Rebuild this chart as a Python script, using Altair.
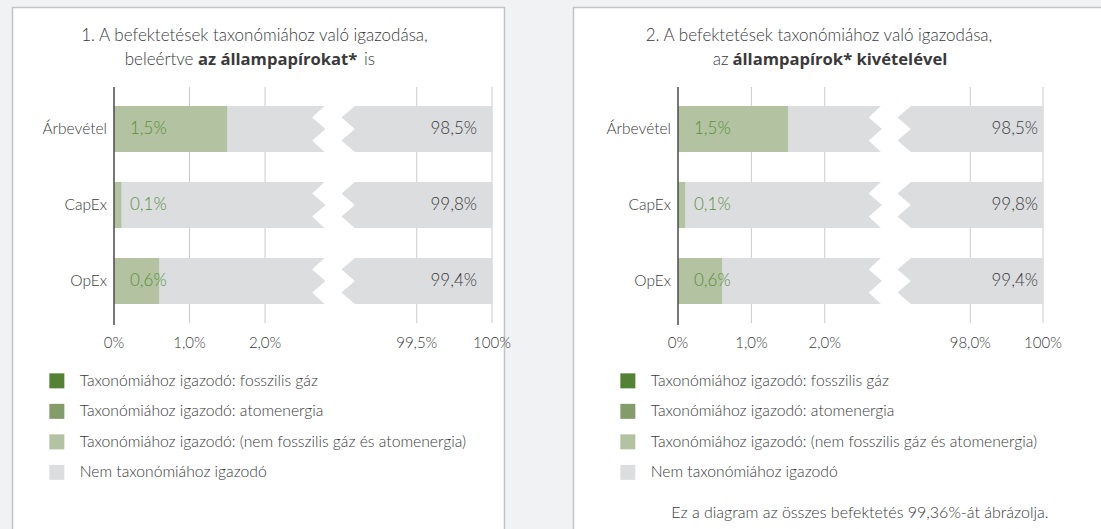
import altair as alt
import pandas as pd

# ---------------- data ----------------
categories = ["Árbevétel", "CapEx", "OpEx"]

aligned_p1 = [1.5, 0.1, 0.6]
not_aligned_p1 = [98.5, 99.8, 99.4]
aligned_labels_p1 = ["1,5%", "0,1%", "0,6%"]
not_aligned_labels_p1 = ["98,5%", "99,8%", "99,4%"]

aligned_p2 = [1.5, 0.1, 0.6]
not_aligned_p2 = [98.5, 99.8, 99.4]
aligned_labels_p2 = ["1,5%", "0,1%", "0,6%"]
not_aligned_labels_p2 = ["98,5%", "99,8%", "99,4%"]

total = 100  # every bar is 100% of the base

ticks_left = [0, 1, 2]
tick_labels_left = ["0%", "1,0%", "2,0%"]
ticks_right_p1 = [99.5, 100]
tick_labels_right_p1 = ["99,5%", "100%"]
ticks_right_p2 = [98.0, 100]
tick_labels_right_p2 = ["98,0%", "100%"]

legend_items = [
    "Taxonómiához igazodó: fosszilis gáz",
    "Taxonómiához igazodó: atomenergia",
    "Taxonómiához igazodó: (nem fosszilis gáz és atomenergia)",
    "Nem taxonómiához igazodó",
]
legend_colors = ["#548235", "#839c69", "#b3c2a0", "#dcdddf"]

title1_line1 = "1. A befektetések taxonómiához való igazodása,"
title1_line2 = ["beleértve", "az állampapírokat*", "is"]
title2_line1 = "2. A befektetések taxonómiához való igazodása,"
title2_line2 = ["az", "állampapírok* kivételével"]
footnote = "Ez a diagram az összes befektetés 99,36%-át ábrázolja."

# ---------------- style ----------------
FONT = "Lato"
BOLD_FONT = "Open Sans"
BG = "#f1f2f4"
GRID = "#cacaca"
AXIS = "#4a4a4a"
TXT = "#3a3a3a"
GREEN_TXT = "#5a8f3e"
GRAY = legend_colors[3]

Y0, Y1 = 87, 323
yscale = alt.Scale(domain=categories, range=[Y0, Y1], paddingInner=0.395, paddingOuter=0.25)
Y = alt.Y("cat:N", scale=yscale, axis=None)
BAR_SIZE = 46 * 46

NOTCH_L = "M0.15,-1.04 L0,-1.04 L-0.58,-0.5 L0,0 L-0.58,0.5 L0,1.04 L0.15,1.04 Z"
NOTCH_R = "M-0.15,-1.04 L0.58,-1.04 L0.58,-1 L0,-0.5 L0.58,0 L0,0.5 L0.58,1 L0.58,1.04 L-0.15,1.04 Z"

color_scale = alt.Scale(domain=legend_items, range=legend_colors)


def one(**kw):
    return alt.Chart(pd.DataFrame({k: [v] for k, v in kw.items()}))


def panel(aligned, not_aligned, al_lab, na_lab, lay, ticks_r, tick_lab_r):
    df = pd.DataFrame({
        "cat": categories,
        "aligned": aligned,
        "not_aligned": not_aligned,
        "al_label": al_lab,
        "na_label": na_lab,
        "series": [legend_items[2]] * len(categories),
    })
    ls = alt.Scale(domain=lay["ldom"], range=lay["lrange"], nice=False, zero=False)
    rs = alt.Scale(domain=lay["rdom"], range=lay["rrange"], nice=False, zero=False)
    brk = lay["ldom"][1]
    rmin = lay["rdom"][0]
    base = alt.Chart(df)
    layers = []

    # panel box
    layers.append(
        one(a=0).mark_rect(fill="white", stroke="#c4c4c4", strokeWidth=1.5).encode(
            x=alt.value(lay["box"][0]), x2=alt.value(lay["box"][1]),
            y=alt.value(7.5), y2=alt.value(560))
    )
    # gridlines
    layers.append(
        alt.Chart(pd.DataFrame({"v": ticks_left[1:]})).mark_rule(color=GRID, strokeWidth=1).encode(
            x=alt.X("v:Q", scale=ls, axis=None), y=alt.value(Y0), y2=alt.value(Y1))
    )
    layers.append(
        alt.Chart(pd.DataFrame({"v": ticks_r})).mark_rule(color=GRID, strokeWidth=1).encode(
            x=alt.X("v:Q", scale=rs, axis=None), y=alt.value(Y0), y2=alt.value(Y1))
    )
    # gray bars, left and right segments of the broken axis
    layers.append(
        base.transform_calculate(s="datum.aligned", e=f"min({total}, {brk})")
        .mark_bar(color=GRAY).encode(x=alt.X("s:Q", scale=ls, axis=None), x2="e:Q", y=Y)
    )
    layers.append(
        base.transform_calculate(s=f"max(datum.aligned, {rmin})", e=f"{total}")
        .mark_bar(color=GRAY).encode(x=alt.X("s:Q", scale=rs, axis=None), x2="e:Q", y=Y)
    )
    # green bars with legend
    layers.append(
        base.transform_calculate(s="0").mark_bar().encode(
            x=alt.X("s:Q", scale=ls, axis=None), x2="aligned:Q", y=Y,
            color=alt.Color("series:N", scale=color_scale, legend=alt.Legend(
                orient="none", legendX=lay["legx"], legendY=373, direction="vertical",
                symbolType="square", symbolSize=225, symbolStrokeWidth=0,
                labelFont=FONT, labelFontSize=15.7, labelFontWeight=300, labelColor=TXT,
                labelOffset=15, rowPadding=13.5, padding=0, title=None, labelLimit=600)))
    )
    # break notches
    layers.append(
        base.transform_calculate(b=f"{brk}").mark_point(
            shape=NOTCH_L, filled=True, color="white", opacity=1, strokeWidth=0, size=BAR_SIZE)
        .encode(x=alt.X("b:Q", scale=ls, axis=None), y=Y)
    )
    layers.append(
        base.transform_calculate(b=f"{rmin}").mark_point(
            shape=NOTCH_R, filled=True, color="white", opacity=1, strokeWidth=0, size=BAR_SIZE)
        .encode(x=alt.X("b:Q", scale=rs, axis=None), y=Y)
    )
    # zero axis line
    layers.append(
        one(v=0).mark_rule(color=AXIS, strokeWidth=1.5).encode(
            x=alt.X("v:Q", scale=ls, axis=None), y=alt.value(Y0), y2=alt.value(Y1 + 2))
    )
    # tick labels
    layers.append(
        alt.Chart(pd.DataFrame({"v": ticks_left, "t": tick_labels_left})).mark_text(
            font=FONT, fontSize=15, fontWeight=300, color=TXT, baseline="middle")
        .encode(x=alt.X("v:Q", scale=ls, axis=None), y=alt.value(343), text="t:N")
    )
    layers.append(
        alt.Chart(pd.DataFrame({"v": ticks_r, "t": tick_lab_r})).mark_text(
            font=FONT, fontSize=15, fontWeight=300, color=TXT, baseline="middle")
        .encode(x=alt.X("v:Q", scale=rs, axis=None), y=alt.value(343), text="t:N")
    )
    # category labels
    layers.append(
        base.transform_calculate(z="0").mark_text(
            font=FONT, fontSize=15.5, fontWeight=300, color=TXT, align="right", baseline="middle", dx=-7)
        .encode(x=alt.X("z:Q", scale=ls, axis=None), y=Y, text="cat:N")
    )
    # value labels
    layers.append(
        base.transform_calculate(z="0").mark_text(
            font=FONT, fontSize=17, fontWeight=300, color=GREEN_TXT, align="left", baseline="middle", dx=16)
        .encode(x=alt.X("z:Q", scale=ls, axis=None), y=Y, text="al_label:N")
    )
    layers.append(
        base.transform_calculate(z=f"{total}").mark_text(
            font=FONT, fontSize=17, fontWeight=300, color=TXT, align="right", baseline="middle", dx=lay["na_dx"])
        .encode(x=alt.X("z:Q", scale=rs, axis=None), y=Y, text="na_label:N")
    )
    return layers


lay1 = dict(ldom=[0, 2.8], lrange=[114, 325.5], rdom=[99.0, 100], rrange=[341.5, 492],
            box=[12.5, 504.5], legx=49, na_dx=-15)
lay2 = dict(ldom=[0, 2.78], lrange=[678, 882], rdom=[96.0, 100], rrange=[897.5, 1043],
            box=[573.5, 1115], legx=620, na_dx=-5)

layers = []
layers += panel(aligned_p1, not_aligned_p1, aligned_labels_p1, not_aligned_labels_p1,
                lay1, ticks_right_p1, tick_labels_right_p1)
layers += panel(aligned_p2, not_aligned_p2, aligned_labels_p2, not_aligned_labels_p2,
                lay2, ticks_right_p2, tick_labels_right_p2)


def txt(s, x, y, align="center", weight=300, size=17, color=TXT, font=FONT):
    return one(t=s).mark_text(font=font, fontSize=size, fontWeight=weight, color=color,
                              align=align, baseline="middle").encode(
        x=alt.value(x), y=alt.value(y), text="t:N")


layers += [
    txt(title1_line1, 254.5, 36),
    txt(title1_line2[0], 193.5, 60, align="right"),
    txt(title1_line2[1], 198, 60, align="left", weight="bold", size=16.6, font=BOLD_FONT),
    txt(title1_line2[2], 364, 60, align="left"),
    txt(title2_line1, 819, 36),
    txt(title2_line2[0], 728.5, 60, align="right"),
    txt(title2_line2[1], 732.5, 60, align="left", weight="bold", size=16.6, font=BOLD_FONT),
    txt(footnote, 1048.5, 513, align="right", size=16),
]

chart = alt.layer(*layers).resolve_scale(x="independent", color="independent").properties(
    width=1101, height=529, background=BG, padding=0,
    autosize=alt.AutoSizeParams(type="none"),
).configure_view(stroke=None)

chart.save("out.html", embed_options={"renderer": "svg", "actions": False})
